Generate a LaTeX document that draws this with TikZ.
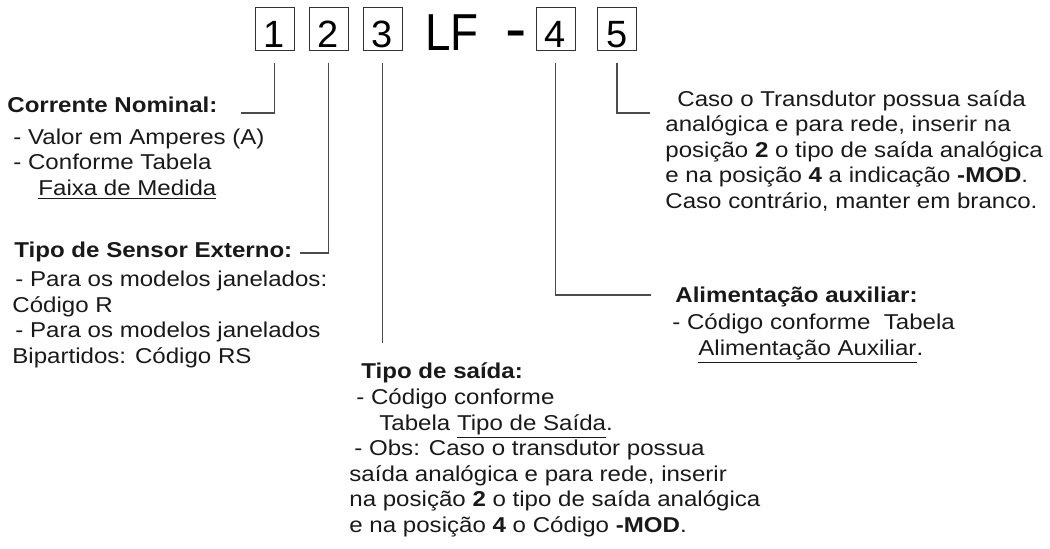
\documentclass[tikz,border=0pt]{standalone}
\usepackage{fontspec}
\setmainfont{Liberation Sans}[FakeStretch=1.12]
\newfontfamily\bigsans{Liberation Sans}
\newfontfamily\lfsans{Liberation Sans}[FakeStretch=0.88]
\usetikzlibrary{positioning}

\tikzset{
  digit/.style={draw=black!80,line width=0.5pt,inner sep=0pt,minimum width=19.5pt,
    minimum height=21.5pt,text height=18.5pt,text depth=0pt,
    font=\bigsans\fontsize{19}{19}\selectfont},
  leader/.style={draw=black!70,line width=0.6pt},
  txt/.style={inner sep=0pt,anchor=base west,align=left,text=black!90,
    font=\fontsize{10.75}{12.75}\selectfont},
  head/.style={txt,font=\bfseries\fontsize{10.75}{12.75}\selectfont}
}

\begin{document}
\begin{tikzpicture}[x=0.5pt,y=-0.5pt,on grid]
  \useasboundingbox (0,0) rectangle (1050,548);

  % code boxes
  \node[digit] (b1) at (274.5,28.5) {1};
  \node[digit] (b2) [right=27pt of b1] {2};
  \node[digit] (b3) [right=27pt of b2] {3};
  \node[digit] (b4) [right=86.5pt of b3] {4};
  \node[digit] (b5) [right=30.75pt of b4] {5};
  \node[inner sep=0pt,anchor=base west,font=\lfsans\fontsize{26}{26}\selectfont] (lf) at (425,50) {LF};
  \node[inner sep=0pt,anchor=base west,font=\bigsans\fontsize{32}{32}\selectfont] (dash) at (505,50) {-};

  % descriptions (multi-line nodes sit on their last line)
  \node[head] (corr) at (7,112) {Corrente Nominal:};
  \node[txt] (corrbody) at (7,195) {\hspace{3pt}- Valor em Amperes (A)\\
    \hspace{3pt}- Conforme Tabela\\
    \hspace{15.5pt}\underline{Faixa de Medida}};

  \node[head] (sens) at (14,257) {Tipo de Sensor Externo:};
  \node[txt] (sensbody) at (12,363) {\hspace{1.5pt}- Para os modelos janelados:\\
    Código R\\
    \hspace{1.5pt}- Para os modelos janelados\\
    Bipartidos: Código RS};

  \node[head] (said) at (361,378) {Tipo de saída:};
  \node[txt] (saidbody) at (349,532) {\hspace{3.5pt}- Código conforme\\
    \hspace{15pt}Tabela \underline{Tipo de Saída}.\\
    \hspace{2.5pt}- Obs: Caso o transdutor possua\\
    saída analógica e para rede, inserir\\
    na posição \textbf{2} o tipo de saída analógica\\
    e na posição \textbf{4} o Código \textbf{-MOD}.};

  \node[head] (alim) at (675,302) {Alimentação auxiliar:};
  \node[txt] (alimbody) at (672,355) {- Código conforme\ \ Tabela\\
    \hspace{13pt}\underline{Alimentação Auxiliar}.};

  \node[txt] (caso) at (665,208) {\hspace{6pt}Caso o Transdutor possua saída\\
    analógica e para rede, inserir na\\
    posição \textbf{2} o tipo de saída analógica\\
    e na posição \textbf{4} a indicação \textbf{-MOD}.\\
    Caso contrário, manter em branco.};

  % leaders
  \coordinate (e1) at (241,113);
  \coordinate (e2) at (300,253);
  \coordinate (e3) at (383,343);
  \coordinate (e4) at (651,295);
  \coordinate (e5) at (650,113);
  \draw[leader] ([yshift=-6pt]b1.south) |- (e1);
  \draw[leader] ([yshift=-6pt]b2.south) |- (e2);
  \draw[leader] ([yshift=-6pt]b3.south) -- (b3.south |- e3);
  \draw[leader] ([yshift=-6pt]b4.south) |- (e4);
  \draw[leader] ([yshift=-6pt]b5.south) |- (e5);
\end{tikzpicture}
\end{document}
